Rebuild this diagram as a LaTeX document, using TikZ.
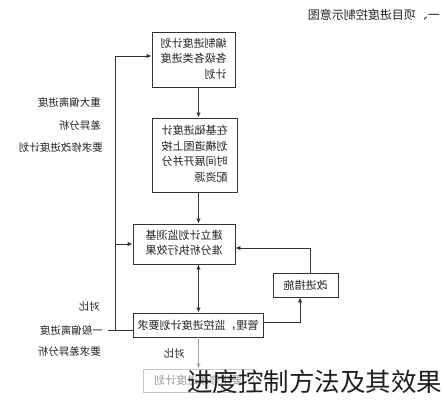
\documentclass[tikz,border=0pt]{standalone}
\usepackage{fontspec}
\usepackage{graphicx}
\setmainfont{Noto Sans CJK SC}
\usetikzlibrary{arrows.meta}
\newcommand{\mirtext}[1]{\reflectbox{\begin{tabular}{@{}l@{}}#1\end{tabular}}}
\definecolor{linec}{HTML}{333333}
\definecolor{textc}{HTML}{222222}
\begin{document}
\begin{tikzpicture}[x=1pt,y=-1pt,
  box/.style={draw=linec, line width=0.9pt, fill=white, inner sep=0pt, text=textc,
              font=\fontsize{11}{15.5}\selectfont},
  arr/.style={draw=linec, line width=0.9pt, -{Latex[length=5pt,width=4.5pt]}},
  lbl/.style={inner sep=0pt, text=textc, font=\fontsize{10.5}{12}\selectfont, anchor=east}]
\path[use as bounding box] (0,0) rectangle (444,400);

% title (mirrored)
\node[lbl, font=\fontsize{12}{14}\selectfont] (title) at (440,15) {\reflectbox{一、项目进度控制示意图}};

% boxes
\node[box, minimum width=83pt, minimum height=55pt] (b1) at (193.5,59.5)
  {\mirtext{编制进度计划\\各级各类进度\\计划}};
\node[box, minimum width=85pt, minimum height=74pt] (b2) at (194.5,155)
  {\mirtext{在基础进度计\\划横道图上按\\时间展开并分\\配资源}};
\node[box, minimum width=102pt, minimum height=40pt] (b3) at (184,244)
  {\mirtext{建立计划监测基\\准分析执行效果}};
\node[box, minimum width=130pt, minimum height=24pt] (b4) at (198,325)
  {\reflectbox{管理，监控进度计划要求}};
\node[box, minimum width=65pt, minimum height=24pt] (b5) at (305.5,285)
  {\reflectbox{改进措施}};
\node[box, draw=black!22, text=black!40, minimum width=110pt, minimum height=23pt] (b6) at (198,380.5)
  {\reflectbox{要求修改进度计划}};

% helper coordinates
\coordinate (vx) at (198.5,0);
\coordinate (lx) at (115,0);
\coordinate (ly) at (0,330);
\coordinate (ty) at (0,56);
\coordinate (ex) at (310,0);
\coordinate (ey) at (0,248);
\coordinate (dx) at (300,0);
\coordinate (dy) at (0,322);
\coordinate (stub) at (108,330);

% connectors
\draw[arr] (b1.south -| vx) -- (b2.north -| vx);
\draw[arr] (b2.south -| vx) -- (b3.north -| vx);
\draw[arr, {Latex[length=5pt,width=4.5pt]}-{Latex[length=5pt,width=4.5pt]}] (b3.south -| vx) -- (b4.north -| vx);
\draw[arr] (b4.east |- dy) -- (dx |- dy) -- (b5.south -| dx);
\draw[arr] (b5.north -| ex) -- (ex |- ey) -- (b3.east |- ey);
\draw[arr] (b4.west |- ly) -- (lx |- ly) -- (lx |- ty) -- (b1.west |- ty);
\draw[linec, line width=0.9pt] (lx |- ly) -- (stub);
\draw[arr] (lx |- b3.west) -- (b3.west);
\draw[arr, draw=black!35] (b4.south -| vx) -- (b6.north -| vx);

% side labels (mirrored)
\node[lbl] (l1) at (101,102) {\reflectbox{重大偏离进度}};
\node[lbl] (l2) at (101,126) {\reflectbox{差异分析}};
\node[lbl] (l3) at (103,147) {\reflectbox{要求修改进度计划}};
\node[lbl] (l4) at (100,306) {\reflectbox{对比}};
\node[lbl] (l5) at (103,330) {\reflectbox{一般偏离进度}};
\node[lbl] (l6) at (101,352) {\reflectbox{要求差异分析}};
\node[lbl] (l7) at (185,353) {\reflectbox{对比}};

% overlay caption
\node[inner sep=0pt, text=black!88, font=\fontsize{25.5}{28}\selectfont] (wm) at (314.5,382) {进度控制方法及其效果};
\end{tikzpicture}
\end{document}
